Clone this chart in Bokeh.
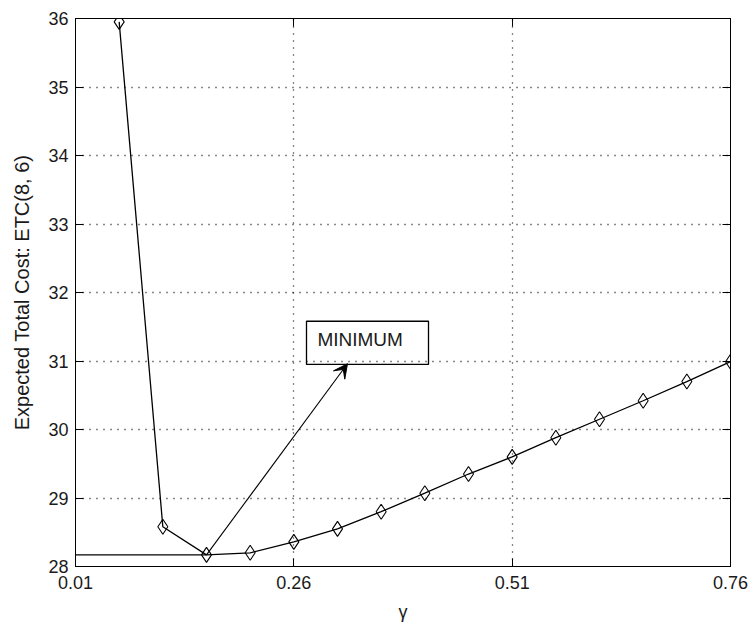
from bokeh.plotting import figure
from bokeh.models import Range1d, LinearAxis, FixedTicker, Arrow, VeeHead, BoxAnnotation, Label, CustomJSTickFormatter
from bokeh.embed import file_html
from bokeh.resources import INLINE

# data
gamma = [0.06, 0.11, 0.16, 0.21, 0.26, 0.31, 0.36, 0.41, 0.46, 0.51, 0.56, 0.61, 0.66, 0.71, 0.76]
etc = [35.95, 28.58, 28.17, 28.20, 28.36, 28.55, 28.80, 29.07, 29.35, 29.60, 29.88, 30.15, 30.42, 30.70, 30.99]
x_ticks = [0.01, 0.26, 0.51, 0.76]
y_ticks = [28, 29, 30, 31, 32, 33, 34, 35, 36]
x_label = "γ"
y_label = "Expected Total Cost: ETC(8, 6)"
note_text = "MINIMUM"

# annotation placement (data units)
note_box = dict(left=0.2745, right=0.4142, bottom=30.95, top=31.58)
arrow_tip = (0.3214, 30.96)
note_pos = (0.287, 31.31)

FONT = "Liberation Sans"

p = figure(width=753, height=628, output_backend="svg", toolbar_location=None,
           x_range=Range1d(x_ticks[0], x_ticks[-1]), y_range=Range1d(y_ticks[0], y_ticks[-1]),
           min_border_left=75, min_border_right=23, min_border_top=18, min_border_bottom=62,
           background_fill_color="white", border_fill_color="white")
p.outline_line_color = "black"
p.outline_line_width = 1

for ax in (p.xaxis[0], p.yaxis[0]):
    ax.major_tick_in = 8
    ax.major_tick_out = 0
    ax.minor_tick_in = 0
    ax.minor_tick_out = 0
    ax.axis_line_color = "black"
    ax.major_tick_line_color = "black"
    ax.major_label_text_font = FONT
    ax.major_label_text_font_size = "18px"
    ax.major_label_text_color = "#1a1a1a"
    ax.axis_label_text_font = FONT
    ax.axis_label_text_font_style = "normal"
    ax.axis_label_text_color = "#1a1a1a"

p.xaxis.ticker = FixedTicker(ticks=x_ticks)
p.yaxis.ticker = FixedTicker(ticks=y_ticks)
p.xaxis.major_label_standoff = 9
p.yaxis.major_label_standoff = 7
p.xaxis.axis_label = x_label
p.yaxis.axis_label = y_label
p.xaxis.axis_label_text_font_size = "18px"
p.yaxis.axis_label_text_font_size = "20px"
p.xaxis.axis_label_standoff = 10
p.yaxis.axis_label_standoff = 12

# mirrored axes (ticks only, no labels)
blank = CustomJSTickFormatter(code="return ''")
top = LinearAxis(ticker=FixedTicker(ticks=x_ticks), formatter=blank)
right = LinearAxis(ticker=FixedTicker(ticks=y_ticks), formatter=blank)
for ax in (top, right):
    ax.major_tick_in = 8
    ax.major_tick_out = 0
    ax.minor_tick_in = 0
    ax.minor_tick_out = 0
    ax.axis_line_color = "black"
    ax.major_label_text_font_size = "1px"
    ax.major_label_standoff = 0
p.add_layout(top, "above")
p.add_layout(right, "right")

p.xgrid.ticker = FixedTicker(ticks=x_ticks)
p.ygrid.ticker = FixedTicker(ticks=y_ticks)
for g in (p.xgrid[0], p.ygrid[0]):
    g.grid_line_color = "#111111"
    g.grid_line_dash = "1 6"
    g.grid_line_width = 1.3

# minimum reference line
imin = etc.index(min(etc))
p.line([x_ticks[0], gamma[imin]], [etc[imin], etc[imin]], line_color="black", line_width=1.2)

# series
p.line(gamma, etc, line_color="black", line_width=1.3)
p.scatter(gamma, etc, marker="diamond", size=15, fill_color=None, line_color="black", line_width=1.1)

# annotation
p.add_layout(BoxAnnotation(fill_color=None, line_color="black", line_width=1.3, line_alpha=1, **note_box))
p.add_layout(Label(x=note_pos[0], y=note_pos[1], text=note_text, text_font=FONT,
                   text_font_size="19px", text_baseline="middle", text_color="#1a1a1a"))
p.add_layout(Arrow(end=VeeHead(size=14, fill_color="black", line_color="black"),
                   x_start=gamma[imin], y_start=etc[imin], x_end=arrow_tip[0], y_end=arrow_tip[1],
                   line_color="black", line_width=1.1))

open("out.html", "w").write(file_html(p, INLINE))
